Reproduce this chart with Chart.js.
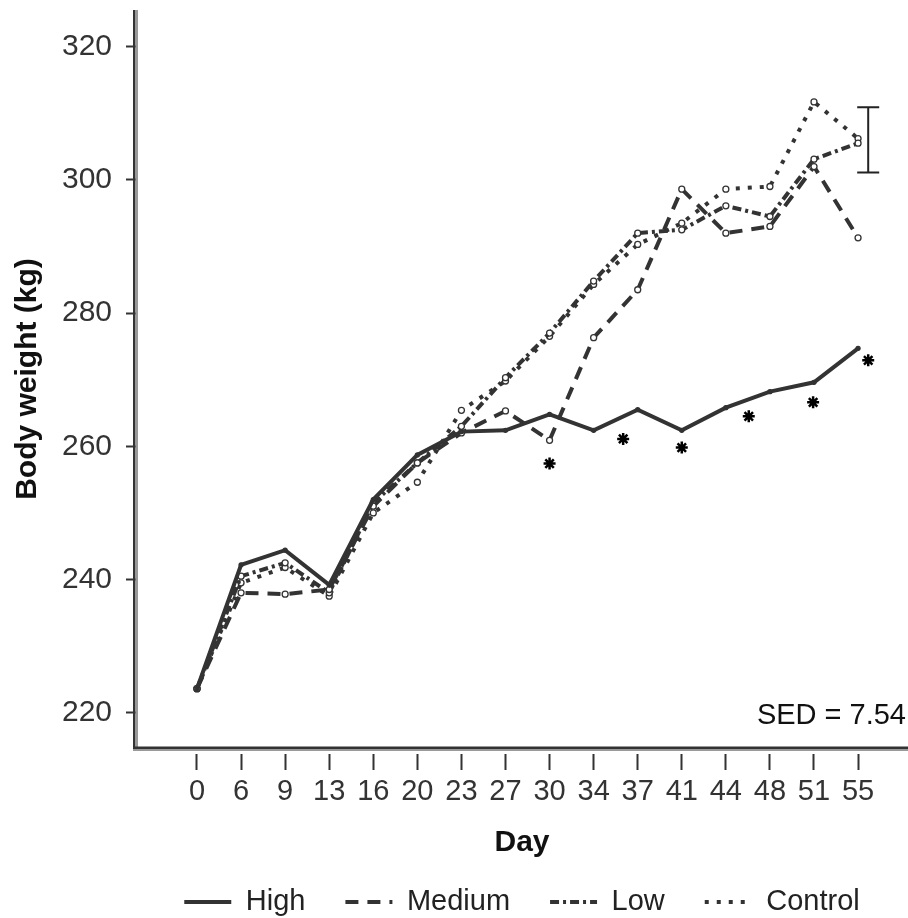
<!DOCTYPE html>
<html>
<head>
<title>Body weight by day</title>
<script src="https://cdn.jsdelivr.net/npm/chart.js@4.4.0/dist/chart.umd.min.js"></script>
<style>
  html, body { margin: 0; padding: 0; background: #fff; }
  #wrap { width: 908px; height: 918px; }
</style>
</head>
<body>
<div id="wrap"><canvas id="myCanvas" width="908" height="918"></canvas></div>
<script>
// data
var days = ['0', '6', '9', '13', '16', '20', '23', '27', '30', '34', '37', '41', '44', '48', '51', '55'];
var high    = [223.6, 242.2, 244.4, 239.2, 252.0, 258.7, 262.2, 262.4, 264.8, 262.4, 265.5, 262.4, 265.8, 268.2, 269.6, 274.7];
var medium  = [223.6, 238.0, 237.8, 238.5, 251.0, 257.5, 262.0, 265.3, 260.9, 276.3, 283.5, 298.6, 292.0, 293.0, 302.0, 291.3];
var low     = [223.6, 240.5, 242.5, 238.0, 251.5, 257.5, 263.0, 270.3, 277.0, 284.8, 292.0, 292.5, 296.1, 294.5, 303.1, 305.5];
var control = [223.6, 239.5, 241.8, 237.5, 250.0, 254.6, 265.4, 269.8, 276.5, 284.3, 290.3, 293.5, 298.6, 299.0, 311.7, 306.2];
var yTicks = [220, 240, 260, 280, 300, 320];

// significance asterisks (position on the day axis in category units, weight)
var starPos = [8.0, 9.67, 11.0, 12.52, 13.98, 15.23];
var starVal = [257.4, 261.1, 259.8, 264.5, 266.6, 272.9];

// SED bar
var sedText = 'SED = 7.54';
var sedPos = 15.23, sedLow = 301.1, sedHigh = 310.9;

var ink = '#333';

function pts(arr) {
  return arr.map(function(v, i) { return {x: i, y: v}; });
}

Chart.defaults.font.family = "'Liberation Sans', Arial, sans-serif";
Chart.defaults.font.size = 29;
Chart.defaults.color = ink;

// axis frame, SED bar and label
var extras = {
  id: 'extras',
  beforeDatasetsDraw: function(chart) {
    var ctx = chart.ctx, a = chart.chartArea;
    ctx.save();
    ctx.fillStyle = '#333';
    ctx.fillRect(a.left - 3, a.top, 2.5, a.bottom - a.top + 1);
    ctx.fillStyle = '#999';
    ctx.fillRect(a.left - 0.5, a.top, 2.5, a.bottom - a.top);
    ctx.fillStyle = '#333';
    ctx.fillRect(a.left - 3, a.bottom - 1.5, a.right - a.left + 3, 2.5);
    ctx.fillStyle = '#999';
    ctx.fillRect(a.left - 3, a.bottom + 1, a.right - a.left + 3, 2);
    ctx.restore();
  },
  afterDatasetsDraw: function(chart) {
    var ctx = chart.ctx, a = chart.chartArea;
    var xs = chart.scales.x, ys = chart.scales.y;
    var x = xs.getPixelForValue(sedPos);
    var y1 = ys.getPixelForValue(sedLow), y2 = ys.getPixelForValue(sedHigh);
    ctx.save();
    ctx.strokeStyle = '#222';
    ctx.lineWidth = 2;
    ctx.beginPath();
    ctx.moveTo(x, y1); ctx.lineTo(x, y2);
    ctx.moveTo(x - 11, y1); ctx.lineTo(x + 11, y1);
    ctx.moveTo(x - 11, y2); ctx.lineTo(x + 11, y2);
    ctx.stroke();
    ctx.fillStyle = '#111';
    ctx.font = "29px 'Liberation Sans', Arial, sans-serif";
    ctx.textAlign = 'right';
    ctx.textBaseline = 'middle';
    ctx.fillText(sedText, a.right - 2, a.bottom - 32);
    ctx.restore();
  }
};

function lineSet(label, data, dash, open) {
  return {
    label: label,
    data: pts(data),
    borderColor: ink,
    borderWidth: 4,
    borderDash: dash,
    pointRadius: open ? 3 : 2,
    pointBackgroundColor: open ? '#fff' : ink,
    pointBorderColor: ink,
    pointBorderWidth: 1.3,
    tension: 0,
    fill: false
  };
}

new Chart(document.getElementById('myCanvas'), {
  type: 'line',
  data: {
    datasets: [
      lineSet('High', high, [], false),
      lineSet('Medium', medium, [13, 9], true),
      lineSet('Low', low, [9, 4, 3, 4], true),
      lineSet('Control', control, [4, 8], true),
      {
        label: 'sig',
        type: 'scatter',
        data: starPos.map(function(p, i) { return {x: p, y: starVal[i]}; }),
        pointStyle: 'star',
        pointRadius: 6,
        borderColor: '#000',
        borderWidth: 2.5,
        showLine: false
      }
    ]
  },
  options: {
    responsive: false,
    animation: false,
    devicePixelRatio: 1,
    layout: { autoPadding: false, padding: { top: 10, right: 0, left: 0, bottom: -8.5 } },
    plugins: {
      tooltip: { enabled: false },
      legend: {
        position: 'bottom',
        fullSize: false,
        labels: {
          usePointStyle: true,
          pointStyle: 'line',
          pointStyleWidth: 47,
          padding: 40,
          color: '#222',
          font: { size: 29 },
          generateLabels: function(chart) {
            var items = Chart.defaults.plugins.legend.labels.generateLabels(chart);
            return items.filter(function(it) { return it.text !== 'sig'; }).map(function(it) {
              var ds = chart.data.datasets[it.datasetIndex];
              it.lineWidth = 4;
              it.lineDash = ds.borderDash;
              it.strokeStyle = ink;
              it.pointStyle = 'line';
              return it;
            });
          }
        }
      }
    },
    scales: {
      x: {
        type: 'linear',
        min: -1.384,
        max: 16.133,
        afterBuildTicks: function(s) {
          s.ticks = days.map(function(d, i) { return {value: i}; });
        },
        afterFit: function(s) {
          s.height = 99.5;
          s.paddingLeft = 0;
          s.paddingRight = 0;
        },
        border: { display: false },
        grid: {
          drawOnChartArea: false,
          drawTicks: true,
          tickLength: 22,
          tickColor: ink,
          tickWidth: 2,
          tickBorderDash: [0, 6, 16, 100]
        },
        ticks: {
          autoSkip: false,
          maxRotation: 0,
          padding: 5,
          color: ink,
          callback: function(v) { return days[v]; }
        },
        title: {
          display: true,
          text: 'Day',
          color: '#111',
          font: { size: 30, weight: 'bold' },
          padding: { top: 0, bottom: -12.9 }
        }
      },
      y: {
        min: 214.7,
        max: 325.5,
        afterBuildTicks: function(s) {
          s.ticks = yTicks.map(function(v) { return {value: v}; });
        },
        afterFit: function(s) {
          s.width = 136;
          s.paddingTop = 0;
          s.paddingBottom = 0;
        },
        border: { display: false },
        grid: {
          drawOnChartArea: false,
          drawTicks: true,
          tickLength: 10,
          tickColor: ink,
          tickWidth: 2
        },
        ticks: { padding: 14, color: ink, font: { size: 30 } },
        title: {
          display: true,
          text: 'Body weight (kg)',
          color: '#111',
          font: { size: 30, weight: 'bold' },
          padding: { top: 10, bottom: 0 }
        }
      }
    }
  },
  plugins: [extras]
});
</script>
</body>
</html>
